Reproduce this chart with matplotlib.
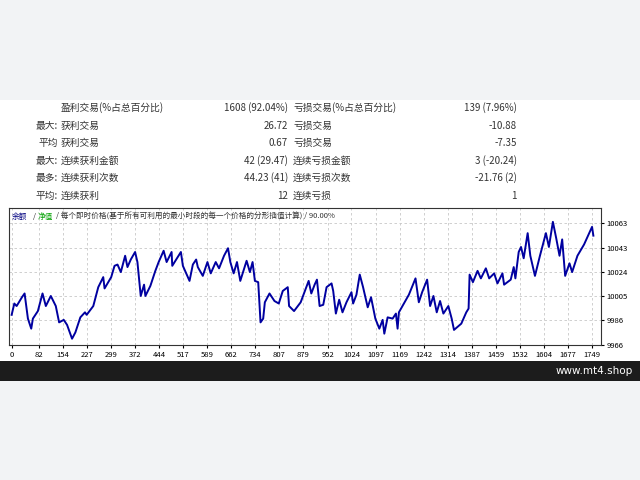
import matplotlib
matplotlib.use('Agg')
from matplotlib import pyplot as plt
import numpy as np

plt.rcParams['font.family'] = ['Noto Sans CJK SC', 'DejaVu Sans']

# balance curve
trade_x = [0, 8, 15, 31, 39, 44, 49, 59, 64, 79, 93, 103, 118, 133, 143, 157, 167, 182, 192,
           207, 221, 226, 246, 261, 276, 280, 300, 310, 319, 329, 342, 349, 359, 372, 379, 389,
           399, 403, 418, 433, 443, 458, 467, 482, 484, 510, 516, 536, 546, 556, 561, 576, 590,
           600, 615, 625, 640, 652, 659, 669, 679, 689, 708, 718, 726, 733, 743, 750, 758, 763,
           777, 792, 805, 817, 832, 836, 851, 871, 895, 903, 913,
           920, 928, 939, 949, 964, 969, 977, 987, 997, 1009, 1024, 1029, 1039, 1049, 1059, 1073,
           1083, 1096, 1108, 1118, 1123, 1133, 1148, 1158, 1163, 1167, 1197, 1217, 1227, 1237,
           1252, 1261, 1271, 1281, 1291, 1301, 1316, 1326, 1333, 1355, 1370, 1377, 1380, 1390,
           1404, 1414, 1429, 1439, 1454, 1464, 1479, 1484, 1504, 1513, 1518, 1528, 1535, 1543,
           1555, 1563, 1577, 1592, 1610, 1619, 1631, 1641, 1651, 1659, 1668, 1681, 1689, 1705,
           1725, 1749, 1753]
balance = [9990, 9999, 9997, 10004, 10007, 9997, 9987, 9979, 9987, 9993, 10007, 9997, 10005, 9997,
           9984, 9986, 9982, 9971, 9976, 9988, 9992, 9990, 9997, 10012, 10020, 10011, 10020, 10029,
           10030, 10024, 10037, 10028, 10034, 10040, 10032, 10005, 10014, 10005, 10013, 10025,
           10032, 10041, 10032, 10040, 10029, 10040, 10029, 10017, 10030, 10034, 10028, 10021,
           10032, 10023, 10032, 10027, 10037, 10043, 10032, 10023, 10032, 10017, 10033, 10024,
           10032, 10017, 10016, 9984, 9987, 10000, 10007, 10001, 9999, 10009, 10012, 9997, 9993,
           10000, 10017, 10007, 10014,
           10018, 9997, 9998, 10012, 10015, 10009, 9991, 10002, 9992, 10000, 10008, 9999, 10006,
           10022, 10012, 9996, 10004, 9987, 9979, 9986, 9975, 9988, 9987, 9991, 9979, 9992, 10006,
           10019, 10000, 10008, 10018, 9997, 10005, 9992, 10001, 9991, 9997, 9987, 9978, 9983,
           9992, 9995, 10022, 10016, 10025, 10019, 10027, 10019, 10023, 10015, 10023, 10014,
           10018, 10028, 10019, 10040, 10044, 10035, 10055, 10037, 10021, 10037, 10055, 10044,
           10064, 10051, 10037, 10050, 10021, 10031, 10024, 10037, 10046, 10060, 10053]

xticks = [0, 82, 154, 227, 299, 372, 444, 517, 589, 662, 734, 807, 879, 952, 1024, 1097,
          1169, 1242, 1314, 1387, 1459, 1532, 1604, 1677, 1749]
yticks = [9966, 9986, 10005, 10024, 10043, 10063]

rows = [
    ('', '盈利交易(%占总百分比)', '1608 (92.04%)', '亏损交易(%占总百分比)', '139 (7.96%)'),
    ('最大:', '获利交易', '26.72', '亏损交易', '-10.88'),
    ('平均', '获利交易', '0.67', '亏损交易', '-7.35'),
    ('最大:', '连续获利金额', '42 (29.47)', '连续亏损金额', '3 (-20.24)'),
    ('最多:', '连续获利次数', '44.23 (41)', '连续亏损次数', '-21.76 (2)'),
    ('平均:', '连续获利', '12', '连续亏损', '1'),
]

fig = plt.figure(figsize=(6.4, 4.8), dpi=100, facecolor='#f2f3f5')
H = 480.0

# white page + dark footer bar
fig.patches.append(plt.Rectangle((0, 1 - 361 / H), 1, 261 / H, transform=fig.transFigure,
                                 facecolor='white', edgecolor='none', zorder=-5))
fig.patches.append(plt.Rectangle((0, 1 - 381 / H), 1, 20 / H, transform=fig.transFigure,
                                 facecolor='#1c1c1c', edgecolor='none', zorder=-5))
fig.text(633 / 640, 1 - 371 / H, 'www.mt4.shop', color='white', fontsize=7.5,
         ha='right', va='center', family='DejaVu Sans')

# stats table
row_y = [108, 126, 143, 161, 178, 196]
for (pre, lab, val, lab2, val2), y in zip(rows, row_y):
    yy = 1 - y / H
    kw = dict(fontsize=7, color='#333333', va='center')
    fig.text(58 / 640, yy, pre, ha='right', **kw)
    fig.text(61 / 640, yy, lab, ha='left', **kw)
    fig.text(288 / 640, yy, val, ha='right', **kw)
    fig.text(293 / 640, yy, lab2, ha='left', **kw)
    fig.text(517 / 640, yy, val2, ha='right', **kw)

ax = fig.add_axes([9 / 640, 1 - 345 / H, 592 / 640, 137 / H], zorder=5)
ax.set_facecolor('white')
ax.plot(trade_x, balance, color='#0000a0', lw=1.4)
ax.set_xlim(-8, 1776)
ax.set_ylim(9966, 10075)
ax.set_xticks(xticks)
ax.set_yticks(yticks)
ax.tick_params(labelsize=5.5, length=2, pad=2)
ax.yaxis.tick_right()
ax.grid(True, ls=(0, (3, 3)), color='#c8c8c8', lw=0.6)
for s in ax.spines.values():
    s.set_color('#333333')
    s.set_linewidth(0.8)

# header line inside the chart
hy = 0.965
hk = dict(transform=ax.transAxes, fontsize=5.5, va='top')
ax.text(3 / 592, hy, '余额', color='#000080', **hk)
ax.text(24 / 592, hy, '/', color='#333333', **hk)
ax.text(29 / 592, hy, '净值', color='#00a000', **hk)
ax.text(47 / 592, hy, '/ 每个即时价格(基于所有可利用的最小时段的每一个价格的分形插值计算) / 90.00%',
        color='#333333', **hk)

plt.savefig('out.png', dpi=100, facecolor=fig.get_facecolor())
plt.close()
